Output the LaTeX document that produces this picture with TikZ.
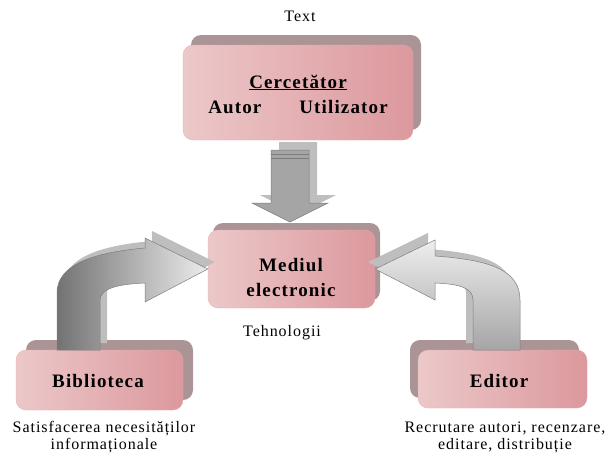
\documentclass[tikz,border=0pt]{standalone}
\usepackage{fontspec}
\setmainfont{Liberation Serif}[LetterSpace=6]
\usetikzlibrary{shadows}
\definecolor{roseA}{RGB}{236,200,201}
\definecolor{roseB}{RGB}{248,230,230}
\definecolor{roseC}{RGB}{220,152,157}
\definecolor{shadowc}{RGB}{170,148,149}
\definecolor{ashadow}{RGB}{190,190,190}
\definecolor{greyA}{RGB}{236,236,236}
\definecolor{greyB}{RGB}{165,165,165}
\definecolor{greyC}{RGB}{115,115,115}
\definecolor{greyline}{RGB}{125,125,125}
\begin{document}
\begin{tikzpicture}[x=1pt,y=-1pt,
  rolebox/.style={rounded corners=10pt, inner sep=0pt, draw=roseC!80!white, line width=0.3pt,
    left color=roseA, middle color=roseB, right color=roseC},
  boxshadow/.style 2 args={drop shadow={shadow xshift=#1pt, shadow yshift=#2pt, fill=shadowc, opacity=1}},
  arrowshadow/.style 2 args={drop shadow={shadow xshift=#1pt, shadow yshift=#2pt, fill=ashadow, opacity=1}},
  boxtext/.style={font=\fontsize{19}{25}\selectfont\bfseries, align=center, inner sep=0pt},
  notetext/.style={font=\fontsize{16}{17}\selectfont, align=center, inner sep=0pt},
  blockarrow/.style={draw=greyline, line width=0.5pt}]
\useasboundingbox (0,0) rectangle (605,461);
%top
\node[notetext] (text) at (300,16) {Text};
\node[rolebox, boxshadow={8}{10}, minimum width=230pt, minimum height=95pt] (cerc) at (298,92.5) {};
\node[boxtext] (cerctxt) at (298,94) {\underline{Cercetător}\\Autor\hspace{38pt}Utilizator};
%centre
\node[rolebox, boxshadow={5}{7}, minimum width=167pt, minimum height=78pt] (mediul) at (291.5,269) {};
\node[boxtext] (mediultxt) at (291,277) {Mediul\\electronic};
\node[notetext] (tehn) at (282,333) {Tehnologii};
%left
\node[rolebox, boxshadow={10}{10}, minimum width=167pt, minimum height=60pt] (bib) at (99.5,380) {};
\node[boxtext] (bibtxt) at (98,381) {Biblioteca};
\node[notetext] (bibnote) at (104,437) {Satisfacerea necesităților\\informaționale};
%right
\node[rolebox, boxshadow={-8}{10}, minimum width=169pt, minimum height=58pt] (ed) at (502.5,379) {};
\node[boxtext] (edtxt) at (499,381) {Editor};
\node[notetext] (ednote) at (505,437) {Recrutare autori, recenzare,\\editare, distribuție};
%down arrow
\draw[blockarrow, arrowshadow={8}{8}, left color=greyB, middle color=greyA, right color=greyB]
  (271,150) -- (271,203) -- (252,203) -- (290,222) -- (328,203) -- (309,203) -- (309,150) -- cycle;
\draw[greyline] (271,154) -- (309,154);
\draw[greyline] (271,158) -- (309,158);
%left arrow
\draw[blockarrow, arrowshadow={7}{7}, left color=greyC, right color=greyA]
  (57,350) -- (57,293) .. controls (57,262) and (100,252) .. (145,248) -- (145,238)
  -- (mediul.west) -- (145,302) -- (145,283) .. controls (120,284) and (100,288) .. (100,300)
  -- (100,350) -- cycle;
%right arrow
\draw[blockarrow, arrowshadow={-7}{7}, top color=greyA!90!white, bottom color=greyB]
  (520,350) -- (520,300) .. controls (520,270) and (490,260) .. (435,256) -- (435,240)
  -- (mediul.east) -- (435,300) -- (435,283) .. controls (460,284) and (473,288) .. (473,300)
  -- (473,350) -- cycle;
\end{tikzpicture}
\end{document}
